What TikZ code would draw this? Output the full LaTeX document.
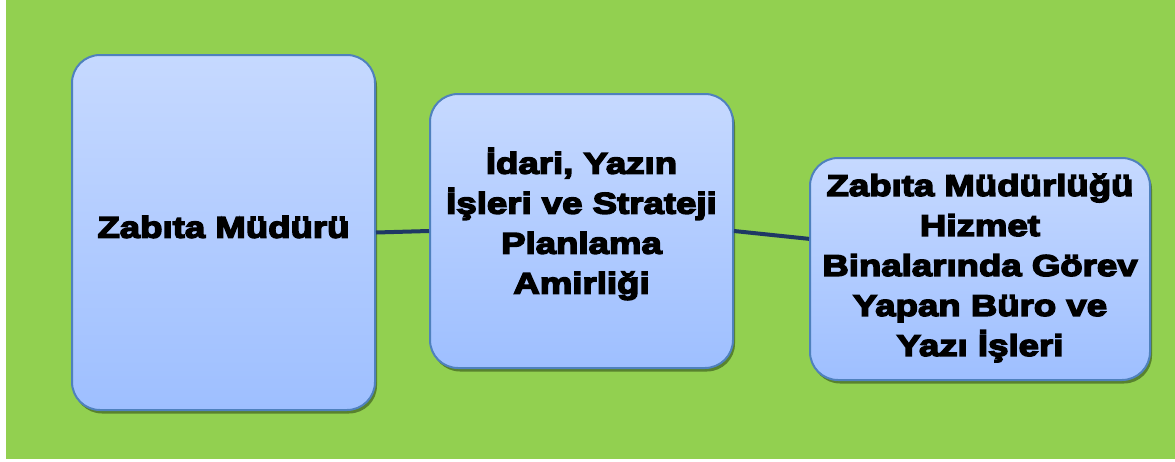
\documentclass[tikz,border=0pt]{standalone}
\usepackage{fontspec}
\setmainfont{Liberation Sans}[BoldFeatures={FakeBold=5,FakeStretch=1.22}]
\usetikzlibrary{shadows}
\definecolor{bggreen}{RGB}{146,208,80}
\definecolor{boxborder}{RGB}{79,129,189}
\definecolor{boxtop}{RGB}{198,217,255}
\definecolor{boxbot}{RGB}{158,191,255}
\definecolor{shadowgreen}{RGB}{88,130,46}
\definecolor{linkcol}{RGB}{31,56,100}
\tikzset{
  orgbox/.style={rectangle, rounded corners=28pt, draw=boxborder, line width=2pt,
    top color=boxtop, bottom color=boxbot,
    general shadow={fill=shadowgreen, shadow xshift=2pt, shadow yshift=-3.5pt}},
  boxtext/.style={align=center, inner sep=0pt, font=\bfseries\fontsize{30}{40}\selectfont},
  link/.style={draw=linkcol, line width=4pt}
}
\begin{document}
\begin{tikzpicture}[x=1pt,y=-1pt]
\useasboundingbox (0,0) rectangle (1175,461);
\fill[white] (0,0) rectangle (1175,461);
\fill[bggreen] (6,0) rectangle (1175,459);
\node[orgbox, minimum width=303pt, minimum height=355pt] (b1) at (223.5,232.5) {};
\node[orgbox, minimum width=303pt, minimum height=274pt] (b2) at (581.5,231) {};
\node[orgbox, minimum width=340pt, minimum height=222pt] (b3) at (980,269) {};
\node[boxtext] (t1) at (223.5,227) {Zabıta Müdürü};
\node[boxtext] (t2) at (581.5,224) {İdari, Yazın\\İşleri ve Strateji\\Planlama\\Amirliği};
\node[boxtext] (t3) at (980,268) {Zabıta Müdürlüğü\\Hizmet\\Binalarında Görev\\Yapan Büro ve\\Yazı İşleri};
\draw[link] (b1.east) -- (b2.west);
\draw[link] (b2.east) -- (b3.170);
\end{tikzpicture}
\end{document}
